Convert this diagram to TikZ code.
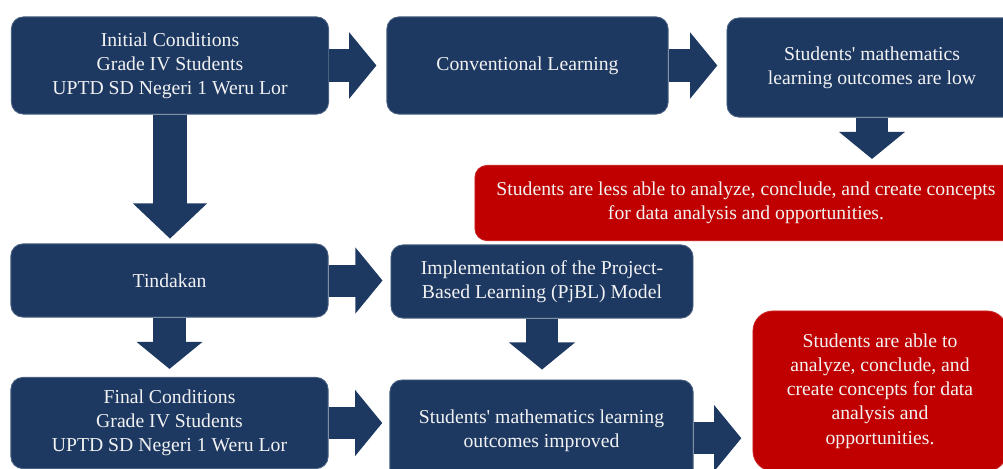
\documentclass[tikz,border=0pt]{standalone}
\usepackage{fontspec}
\setmainfont{Liberation Serif}
\usetikzlibrary{arrows.meta}

\definecolor{boxblue}{RGB}{29,57,98}
\definecolor{boxred}{RGB}{192,0,0}
\definecolor{boxtext}{RGB}{242,242,242}

\begin{document}
\begin{tikzpicture}[x=0.025cm,y=-0.025cm]
\tikzstyle{every node}+=[inner sep=0pt]
\tikzstyle{blockbox}=[rectangle, rounded corners=0.3cm, fill=boxblue, draw=boxblue!80!white, line width=0.6pt, text=boxtext, align=center, font=\fontsize{14}{17.2}\selectfont]
\tikzstyle{redbox}=[blockbox, fill=boxred, draw=boxred!85!white]
\tikzstyle{flowarrow}=[draw=boxblue, line width=0.8cm, -{Triangle[length=0.68cm,width=1.62cm]}]
\tikzstyle{bigarrow}=[flowarrow, line width=0.83cm, -{Triangle[length=0.88cm,width=1.8cm]}]
\useasboundingbox (0,0) rectangle (1003,468);
\clip (0,0) rectangle (1003,468);

% top row
\node [blockbox, minimum width=7.93cm, minimum height=2.43cm] (init) at (170,65.5) {Initial Conditions\\Grade IV Students\\UPTD SD Negeri 1 Weru Lor};
\node [blockbox, minimum width=7.03cm, minimum height=2.43cm] (conv) at (527.5,65.5) {Conventional Learning};
\node [blockbox, minimum width=7.25cm, minimum height=2.48cm] (low) at (872,67.5) {Students\textquotesingle{} mathematics\\learning outcomes are low};
\node [redbox, minimum width=13.55cm, minimum height=1.88cm] (less) at (746,203) {Students are less able to analyze, conclude, and create concepts\\for data analysis and opportunities.};

% middle and bottom rows
\node [blockbox, minimum width=7.93cm, minimum height=1.83cm] (tind) at (169.5,280.5) {Tindakan};
\node [blockbox, minimum width=7.55cm, minimum height=1.83cm] (pjbl) at (542,281.5) {Implementation of the Project-\\Based Learning (PjBL) Model};
\node [blockbox, minimum width=7.93cm, minimum height=2.28cm] (final) at (169.5,423) {Final Conditions\\Grade IV Students\\UPTD SD Negeri 1 Weru Lor};
\node [blockbox, minimum width=7.58cm, minimum height=2.55cm] (better) at (541.5,431) {Students\textquotesingle{} mathematics learning\\outcomes improved};
\node [redbox, rounded corners=0.5cm, minimum width=6.35cm, minimum height=4cm] (able) at (880,391) {Students are able to\\analyze, conclude, and\\create concepts for data\\analysis and\\opportunities.};

% arrows
\draw [flowarrow, shorten >=0.25cm] (init.east) -- (init.east -| conv.west);
\draw [flowarrow, shorten >=0.23cm] (conv.east) -- (conv.east -| low.west);
\draw [bigarrow, shorten >=0.12cm] (init.south) -- (init.south |- tind.north);
\draw [flowarrow, shorten >=0.15cm] (low.south) -- (low.south |- less.north);
\draw [flowarrow, shorten >=0.2cm] (tind.east) -- (tind.east -| pjbl.west);
\draw [flowarrow, shorten >=0.2cm] (tind.south) -- (tind.south |- final.north);
\draw [flowarrow, shorten >=0.25cm] (pjbl.south) -- (pjbl.south |- better.north);
\draw [flowarrow, shorten >=0.18cm] (final.east) -- (final.east -| better.west);
\coordinate (better-out) at ([yshift=-0.18cm]better.east);
\draw [flowarrow, shorten >=0.28cm] (better-out) -- (better-out -| able.west);
\end{tikzpicture}
\end{document}
